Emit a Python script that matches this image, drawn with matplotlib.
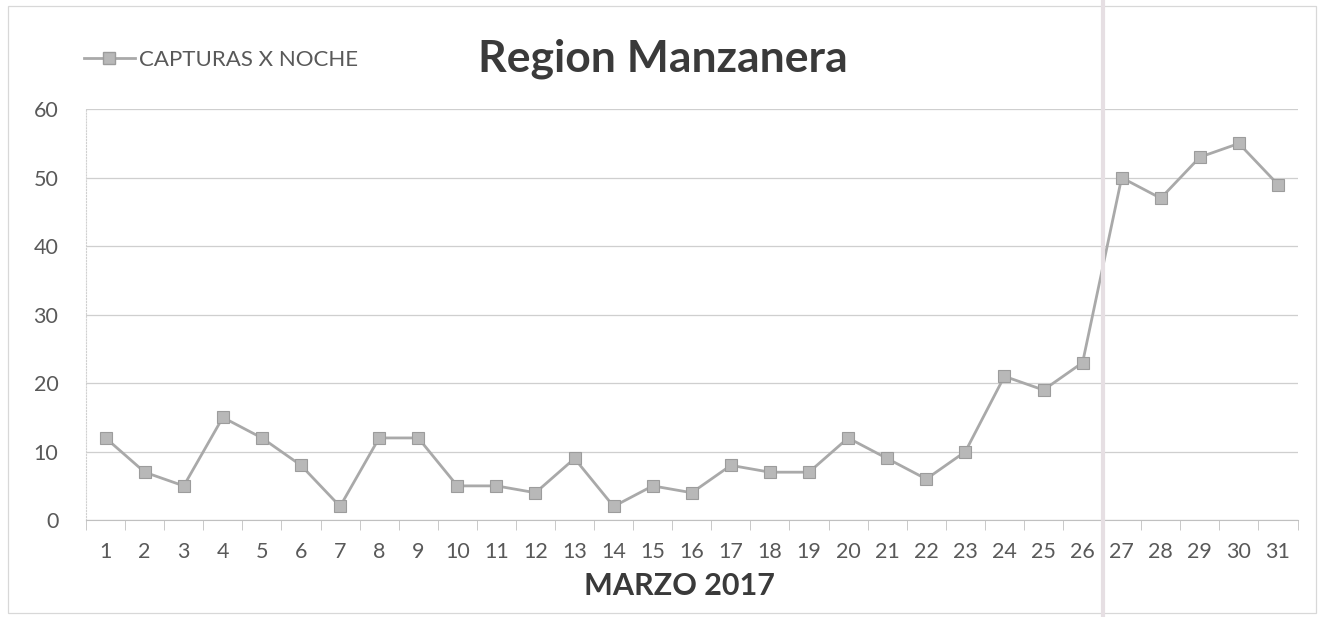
import numpy as np
import matplotlib
matplotlib.use("Agg")
import matplotlib.pyplot as plt
from matplotlib.lines import Line2D
from matplotlib.patches import Rectangle

plt.rcParams['font.family'] = ['Lato', 'DejaVu Sans']

# nights of March 2017 and captures per night
DIAS = [str(d) for d in range(1, 32)]
CAPTURAS = [12, 7, 5, 15, 12, 8, 2, 12, 12, 5, 5, 4, 9, 2, 5, 4, 8, 7, 7, 12,
            9, 6, 10, 21, 19, 23, 50, 47, 53, 55, 49]
Y_TICKS = [0, 10, 20, 30, 40, 50, 60]

LINE_COLOR = "#a9a9a9"
MARK_COLOR = "#b8b8b8"
TEXT_COLOR = "#595959"

fig = plt.figure(figsize=(13.24, 6.17), dpi=100)
ax = fig.add_axes([0.065, 0.157, 0.915, 0.666])

x = np.arange(len(DIAS))
ax.plot(x, CAPTURAS, color=LINE_COLOR, lw=2.0, marker="s", markersize=8.5,
        markerfacecolor=MARK_COLOR, markeredgecolor="#9c9c9c", markeredgewidth=0.8,
        label="CAPTURAS X NOCHE", zorder=3)

ax.set_xlim(-0.5, len(DIAS) - 0.5)
ax.set_ylim(0, 60)
ax.set_yticks(Y_TICKS)
ax.set_xticks(x)
ax.set_xticklabels(DIAS)
# category ticks sit between the days
ax.set_xticks(np.arange(-0.5, len(DIAS), 1), minor=True)
ax.tick_params(axis="x", which="major", length=0, pad=16, labelsize=15.5, labelcolor=TEXT_COLOR)
ax.tick_params(axis="x", which="minor", length=7, color="#c0c0c0", direction="out")
ax.tick_params(axis="y", length=0, pad=20, labelsize=15.5, labelcolor=TEXT_COLOR)

ax.grid(axis="y", color="#cfcfcf", lw=0.9)
ax.set_axisbelow(True)
for s in ["top", "right"]:
    ax.spines[s].set_visible(False)
ax.spines["left"].set_color("#d0d0d0")
ax.spines["left"].set_linestyle(":")
ax.spines["bottom"].set_color("#c0c0c0")

ax.set_xlabel("MARZO 2017", fontsize=22, fontweight="bold", color="#3a3a3a")
ax.xaxis.set_label_coords(0.49, -0.127)

fig.text(0.501, 0.905, "Region Manzanera", ha="center", va="center",
         fontsize=32, fontweight="bold", color="#3a3a3a")

leg_handle = Line2D([], [], color=LINE_COLOR, lw=2, marker="s", markersize=8,
                    markerfacecolor=MARK_COLOR, markeredgecolor="#9c9c9c")
fig.legend([leg_handle], ["CAPTURAS X NOCHE"], loc="center left",
           bbox_to_anchor=(0.055, 0.903), frameon=False, fontsize=16,
           labelcolor=TEXT_COLOR, handlelength=2.3, handletextpad=0.2,
           borderpad=0.0)

# thin chart frame and the scanner stripe
fig.patches.append(Rectangle((0.006, 0.006), 0.988, 0.985, transform=fig.transFigure,
                             fill=False, edgecolor="#d8d8d8", lw=0.9))
fig.add_artist(Line2D([0.833, 0.833], [0, 1], transform=fig.transFigure,
                      color="#e6dfe3", lw=3, zorder=5))

fig.savefig("out.png", dpi=100, facecolor="white")
